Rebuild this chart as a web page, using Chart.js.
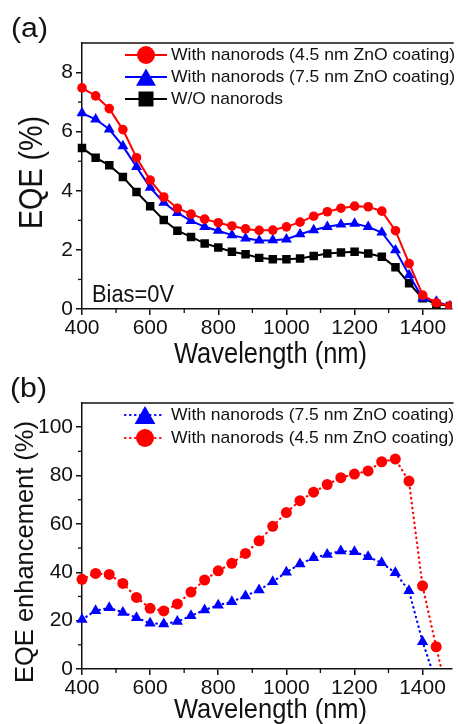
<!DOCTYPE html>
<html>
<head>
<meta charset="utf-8">
<script src="https://cdn.jsdelivr.net/npm/chart.js@4.4.1/dist/chart.umd.min.js"></script>
<style>
html,body{margin:0;padding:0;background:#fff;width:458px;height:724px;overflow:hidden;position:relative}
canvas{position:absolute;left:0}
#chartA{top:0;width:458px;height:372px}
#chartB{top:362px;width:458px;height:362px}
</style>
</head>
<body>
<canvas id="chartA" width="458" height="372"></canvas>
<canvas id="chartB" width="458" height="362"></canvas>
<script>
// ---------- data ----------
const wavelengths = [400,440,480,520,560,600,640,680,720,760,800,840,880,920,960,1000,1040,1080,1120,1160,1200,1240,1280,1320,1360,1400,1440,1480];
// panel (a): EQE (%)
const eqeZnO45 = [7.48,7.21,6.78,6.07,5.12,4.36,3.79,3.41,3.21,3.04,2.92,2.81,2.71,2.66,2.67,2.78,2.94,3.14,3.29,3.41,3.48,3.46,3.31,2.65,1.54,0.47,0.21,0.10];
const eqeZnO75 = [6.63,6.42,6.08,5.51,4.81,4.11,3.60,3.25,2.98,2.78,2.65,2.50,2.39,2.32,2.33,2.36,2.53,2.67,2.78,2.86,2.89,2.78,2.59,1.99,1.15,0.36,0.25,0.10];
const eqeBare  = [5.45,5.12,4.86,4.47,3.96,3.48,3.01,2.65,2.44,2.22,2.08,1.94,1.85,1.73,1.68,1.68,1.71,1.79,1.88,1.91,1.94,1.88,1.77,1.41,0.87,0.36,0.17,0.10];
// panel (b): EQE enhancement (%)
const enhZnO75 = [20.5,24.1,25.3,23.4,21.2,18.9,18.6,19.6,22.0,24.4,26.4,27.8,30.2,32.7,36.1,40.0,43.4,46.0,47.4,48.8,48.5,46.4,43.9,39.8,32.4,11.3,-5.5,null];
const enhZnO45 = [37.1,39.5,39.1,35.4,29.6,25.1,24.0,26.9,31.8,36.8,40.6,43.7,47.8,53.0,59.0,64.7,69.6,73.1,76.3,79.1,80.6,81.9,85.7,86.8,77.7,34.4,9.2,-15.0];

const labelZnO45 = 'With nanorods (4.5 nm ZnO coating)';
const labelZnO75 = 'With nanorods (7.5 nm ZnO coating)';
const labelBare  = 'W/O nanorods';

const xMinorTicks = [500,700,900,1100,1300];
const yMinorTicksA = [1,3,5,7];
const yMinorTicksB = [10,30,50,70,90];

// ---------- style ----------
const FONT = "'Liberation Sans', Arial, Helvetica, sans-serif";
const INK = '#111111';
const RED = '#ff0000', BLUE = '#0000ff', BLACK = '#000000';

function pts(ys){ return wavelengths.map((x,i)=>({x:x, y:ys[i]})); }

function drawMarker(ctx, style, x, y, r, color){
  ctx.fillStyle = color;
  ctx.beginPath();
  if (style === 'triangle'){
    ctx.moveTo(x, y - r);
    ctx.lineTo(x + r*0.866, y + r/2);
    ctx.lineTo(x - r*0.866, y + r/2);
    ctx.closePath();
  } else if (style === 'rect'){
    const h = r*Math.SQRT1_2;
    ctx.rect(x-h, y-h, 2*h, 2*h);
  } else {
    ctx.arc(x, y, r, 0, Math.PI*2);
  }
  ctx.fill();
}

function fitText(ctx, text, x, y, size, target, opts){
  opts = opts || {};
  ctx.save();
  ctx.font = size + 'px ' + FONT;
  ctx.fillStyle = INK;
  ctx.textBaseline = 'alphabetic';
  ctx.textAlign = opts.align || 'left';
  const w = ctx.measureText(text).width;
  const s = target ? target / w : 1;
  ctx.translate(x, y);
  if (opts.rotate) ctx.rotate(-Math.PI/2);
  ctx.scale(s, 1);
  ctx.fillText(text, 0, 0);
  ctx.restore();
}

function makeDecor(cfg){
  return {
    id: 'panelDecor',
    afterDraw(chart){
      const ctx = chart.ctx, ca = chart.chartArea;
      const xs = chart.scales.x, ys = chart.scales.y;
      ctx.save();
      ctx.strokeStyle = INK;
      // top frame line
      ctx.lineWidth = 1.5;
      ctx.beginPath(); ctx.moveTo(ca.left - 0.75, ca.top); ctx.lineTo(ca.right + 2, ca.top); ctx.stroke();
      // minor ticks
      ctx.lineWidth = 1.3;
      xMinorTicks.forEach(v => {
        const p = xs.getPixelForValue(v);
        if (p > ca.right) return;
        ctx.beginPath(); ctx.moveTo(p, ca.bottom); ctx.lineTo(p, ca.bottom + 4); ctx.stroke();
      });
      cfg.yMinor.forEach(v => {
        const p = ys.getPixelForValue(v);
        ctx.beginPath(); ctx.moveTo(ca.left, p); ctx.lineTo(ca.left - 4, p); ctx.stroke();
      });
      ctx.restore();
      // texts
      cfg.texts.forEach(t => fitText(ctx, t.text, t.x, t.y, t.size, t.target, t));
      // legend
      cfg.legend.forEach(e => {
        const ds = chart.data.datasets[e.index];
        ctx.save();
        ctx.strokeStyle = ds.borderColor;
        ctx.lineWidth = ds.borderWidth;
        ctx.lineCap = ds.borderCapStyle || 'butt';
        ctx.setLineDash(ds.borderDash || []);
        ctx.beginPath(); ctx.moveTo(e.x1, e.y); ctx.lineTo(e.x2, e.y); ctx.stroke();
        ctx.setLineDash([]);
        drawMarker(ctx, ds.pointStyle, (e.x1 + e.x2)/2, e.y + (ds.pointStyle === 'triangle' ? e.r/4 : 0), e.r, ds.borderColor);
        ctx.restore();
        fitText(ctx, ds.label, e.tx, e.y + 4.5, 17, e.tw);
      });
    }
  };
}

function axisOpts(min, max, step, fitSize, horizontal){
  return {
    type: 'linear', min: min, max: max,
    border: {display: true, color: INK, width: 1.5},
    grid: {display: true, drawOnChartArea: false, drawTicks: true, tickLength: 6, tickColor: INK, tickWidth: 1.5, lineWidth: 1.5, color: INK},
    ticks: {stepSize: step, includeBounds: false, autoSkip: false, maxRotation: 0, color: INK,
            font: {family: FONT, size: 21}, padding: horizontal ? 1 : 3,
            callback: v => String(v)},
    title: {display: false},
    afterFit: horizontal ? (s => { s.height = fitSize; }) : (s => { s.width = fitSize; })
  };
}

function baseOptions(top, xAxisHeight, yMin, yMax, yStep){
  return {
    responsive: false, animation: false, devicePixelRatio: 1,
    layout: {padding: {top: top, left: 0, right: 0, bottom: 0}},
    plugins: {legend: {display: false}, tooltip: {enabled: false}},
    elements: {line: {tension: 0}},
    scales: {
      x: axisOpts(400, 1485, 200, xAxisHeight, true),
      y: axisOpts(yMin, yMax, yStep, 82, false)
    }
  };
}

// ---------- panel (a) ----------
new Chart(document.getElementById('chartA'), {
  type: 'line',
  data: {datasets: [
    {label: labelZnO45, data: pts(eqeZnO45), borderColor: RED, backgroundColor: RED, borderWidth: 2,
     pointStyle: 'circle', pointRadius: 4.8, pointBorderWidth: 0, clip: {left: 8, top: 0, right: 0, bottom: 0}},
    {label: labelZnO75, data: pts(eqeZnO75), borderColor: BLUE, backgroundColor: BLUE, borderWidth: 2,
     pointStyle: 'triangle', pointRadius: 6.3, pointBorderWidth: 0, clip: {left: 8, top: 0, right: 0, bottom: 0}},
    {label: labelBare, data: pts(eqeBare), borderColor: BLACK, backgroundColor: BLACK, borderWidth: 2,
     pointStyle: 'rect', pointRadius: 6.0, pointBorderWidth: 0, clip: {left: 8, top: 0, right: 0, bottom: 0}}
  ]},
  options: baseOptions(43, 372 - 309, 0, 9, 2),
  plugins: [makeDecor({
    yMinor: yMinorTicksA,
    texts: [
      {text: '(a)', x: 11, y: 37, size: 27, target: 37},
      {text: 'EQE (%)', x: 42, y: 172.5, size: 33, target: 113, rotate: true, align: 'center'},
      {text: 'Wavelength (nm)', x: 270.5, y: 363, size: 29, target: 193, align: 'center'},
      {text: 'Bias=0V', x: 92, y: 302, size: 23.5, target: 82}
    ],
    legend: [
      {index: 0, y: 55, x1: 125, x2: 167, r: 9, tx: 171, tw: 284},
      {index: 1, y: 77, x1: 125, x2: 167, r: 11.5, tx: 171, tw: 284},
      {index: 2, y: 99, x1: 125, x2: 167, r: 10.6, tx: 171, tw: 112}
    ]
  })]
});

// ---------- panel (b) ----------
new Chart(document.getElementById('chartB'), {
  type: 'line',
  data: {datasets: [
    {label: labelZnO75, data: pts(enhZnO75), borderColor: BLUE, backgroundColor: BLUE, borderWidth: 2.2,
     borderDash: [0.5, 4.5], borderCapStyle: 'round',
     pointStyle: 'triangle', pointRadius: 6.5, pointBorderWidth: 0, clip: {left: 8, top: 0, right: 0, bottom: 0}},
    {label: labelZnO45, data: pts(enhZnO45), borderColor: RED, backgroundColor: RED, borderWidth: 2.2,
     borderDash: [0.5, 4.5], borderCapStyle: 'round',
     pointStyle: 'circle', pointRadius: 5.5, pointBorderWidth: 0, clip: {left: 8, top: 0, right: 0, bottom: 0}}
  ]},
  options: baseOptions(41, 362 - 307, 0, 110, 20),
  plugins: [makeDecor({
    yMinor: yMinorTicksB,
    texts: [
      {text: '(b)', x: 10, y: 35, size: 27, target: 37},
      {text: 'EQE enhancement (%)', x: 33, y: 190, size: 25, target: 262, rotate: true, align: 'center'},
      {text: 'Wavelength (nm)', x: 270.5, y: 356, size: 28, target: 193, align: 'center'}
    ],
    legend: [
      {index: 0, y: 53, x1: 125, x2: 165, r: 12, tx: 171, tw: 283},
      {index: 1, y: 76, x1: 125, x2: 165, r: 9, tx: 171, tw: 283}
    ]
  })]
});
</script>
</body>
</html>
